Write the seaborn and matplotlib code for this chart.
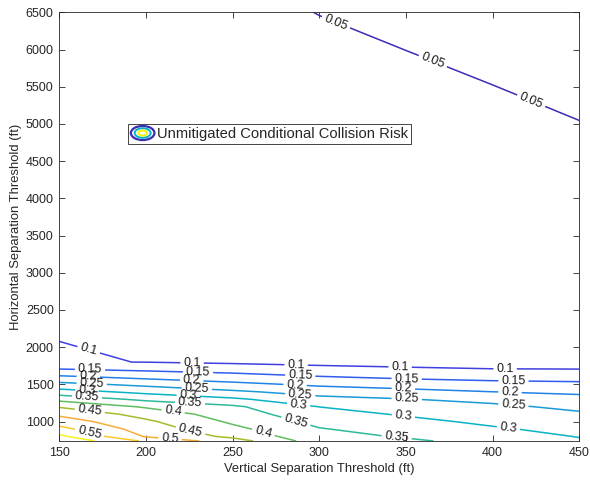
import matplotlib
matplotlib.use("Agg")
import numpy as np
import matplotlib.pyplot as plt
import seaborn as sns
from matplotlib.legend_handler import HandlerBase
from matplotlib.patches import Ellipse
from matplotlib.lines import Line2D

# Grid of separation thresholds (ft)
vertical_sep = [150, 200, 250, 300, 350, 400, 450]
horizontal_sep = [740, 800, 900, 1000, 1100, 1200, 1300, 1400, 1500,
                  1600, 1700, 1800, 2100, 6500]

# Unmitigated conditional collision risk, one row per horizontal threshold
collision_risk = [
    [0.640, 0.542, 0.474, 0.373, 0.357, 0.335, 0.306],   # 740
    [0.612, 0.496, 0.439, 0.365, 0.346, 0.324, 0.298],   # 800
    [0.565, 0.477, 0.413, 0.353, 0.329, 0.306, 0.285],   # 900
    [0.527, 0.459, 0.392, 0.336, 0.313, 0.290, 0.271],   # 1000
    [0.490, 0.432, 0.375, 0.318, 0.295, 0.275, 0.257],   # 1100
    [0.446, 0.394, 0.359, 0.2995, 0.273, 0.260, 0.239],  # 1200
    [0.385, 0.339, 0.309, 0.266, 0.252, 0.237, 0.216],   # 1300
    [0.321, 0.287, 0.259, 0.230, 0.216, 0.2004, 0.191],  # 1400
    [0.265, 0.238, 0.213, 0.191, 0.177, 0.166, 0.161],   # 1500
    [0.209, 0.187, 0.171, 0.153, 0.141, 0.134, 0.131],   # 1600
    [0.1533, 0.1414, 0.1305, 0.1187, 0.1099, 0.1031, 0.1018],  # 1700
    [0.1025, 0.0995, 0.0924, 0.0847, 0.0790, 0.0721, 0.0718],  # 1800
    [0.0998, 0.0973, 0.0900, 0.0800, 0.0750, 0.0700, 0.0650],  # 2100
    [0.0618, 0.0580, 0.0542, 0.0497, 0.0467, 0.0443, 0.0426],  # 6500
]

risk_levels = [0.05, 0.1, 0.15, 0.2, 0.25, 0.3, 0.35, 0.4, 0.45, 0.5, 0.55, 0.6]
level_colors = ["#3b2db4", "#4040e0", "#305cf0", "#1f82e8", "#1a9ad8", "#09b3c4",
                "#2db99b", "#5fbd5f", "#a8ba2c", "#f6ad37", "#f9c92a", "#f4f41a"]

x_ticks = [150, 200, 250, 300, 350, 400, 450]
y_ticks = [1000, 1500, 2000, 2500, 3000, 3500, 4000, 4500, 5000, 5500, 6000, 6500]

# Where the in-line contour labels sit (data coordinates)
label_spots = {
    0.05: [(309, 6329), (365, 5815), (421.6, 5277)],
    0.1: [(166.6, 1934), (226.6, 1786), (286.6, 1746), (346.6, 1722), (407.2, 1712)],
    0.15: [(167.7, 1690), (230, 1648), (289, 1602), (350.4, 1567), (412, 1535)],
    0.2: [(166.7, 1600), (226.4, 1535), (286, 1480), (348.5, 1433), (410, 1395)],
    0.25: [(168.7, 1510), (229.3, 1430), (289, 1352), (350.4, 1300), (412, 1235)],
    0.3: [(166, 1430), (224.4, 1340), (288, 1215), (348.5, 1074), (409, 899)],
    0.35: [(166, 1350), (225.4, 1250), (286, 960), (344.6, 790)],
    0.4: [(215.8, 1164), (267.6, 842)],
    0.45: [(167.7, 1164), (225.4, 850)],
    0.5: [(213.9, 775)],
    0.55: [(167.7, 880)],
}

sns.set_theme(style="ticks")
plt.rcParams["font.family"] = ["Liberation Sans", "DejaVu Sans"]
plt.rcParams.update({
    "xtick.direction": "in", "ytick.direction": "in",
    "xtick.top": True, "ytick.right": True,
    "axes.edgecolor": "#262626", "axes.linewidth": 0.6,
    "xtick.color": "#262626", "ytick.color": "#262626",
    "xtick.major.size": 4, "ytick.major.size": 4,
    "xtick.major.width": 0.6, "ytick.major.width": 0.6,
})

fig = plt.figure(figsize=(5.9, 4.8), dpi=100)
ax = fig.add_axes([0.1005, 0.0813, 0.8814, 0.8931])

X, Y = np.meshgrid(vertical_sep, horizontal_sep)
Z = np.array(collision_risk)

# One contour set per risk level so each level gets its own labels
for lev, col in zip(risk_levels, level_colors):
    cs = ax.contour(X, Y, Z, levels=[lev], colors=[col], linewidths=1.1)
    spots = label_spots.get(lev)
    if spots:
        ax.clabel(cs, manual=spots, inline=True, inline_spacing=3,
                  fmt="%g", fontsize=9, colors="k")

ax.set_xlim(150, 450)
ax.set_ylim(740, 6500)
ax.set_xticks(x_ticks)
ax.set_yticks(y_ticks)
ax.tick_params(labelsize=9, pad=4, labelcolor="#262626")
ax.set_xlabel("Vertical Separation Threshold (ft)", fontsize=9.4, labelpad=3,
              color="#262626")
ax.set_ylabel("Horizontal Separation Threshold (ft)", fontsize=9.4, labelpad=3,
              color="#262626")


class ContourIcon(HandlerBase):
    """Legend key drawn as nested contour rings."""

    def create_artists(self, legend, orig_handle, xdescent, ydescent,
                       width, height, fontsize, trans):
        cx = width / 2 - xdescent
        cy = height / 2 - ydescent
        rings = [(1.0, "#3b2db4", 1.6), (0.68, "#09b3c4", 1.4), (0.36, "#f4f41a", 1.6)]
        arts = []
        for frac, col, lw in rings:
            e = Ellipse((cx, cy), width * frac, height * 1.2 * frac, fill=False,
                        edgecolor=col, lw=lw, transform=trans)
            arts.append(e)
        return arts


proxy = Line2D([], [], color=level_colors[0])
leg = ax.legend([proxy], ["Unmitigated Conditional Collision Risk"],
                handler_map={Line2D: ContourIcon()},
                loc="upper left", bbox_to_anchor=(0.132, 0.739), borderaxespad=0,
                fontsize=10.6, handlelength=1.6, handleheight=0.85,
                handletextpad=0.15, borderpad=0.2,
                frameon=True, fancybox=False, framealpha=1)
leg.get_frame().set_edgecolor("#262626")
leg.get_frame().set_linewidth(0.6)

fig.savefig("out.png", dpi=100, facecolor="white")
